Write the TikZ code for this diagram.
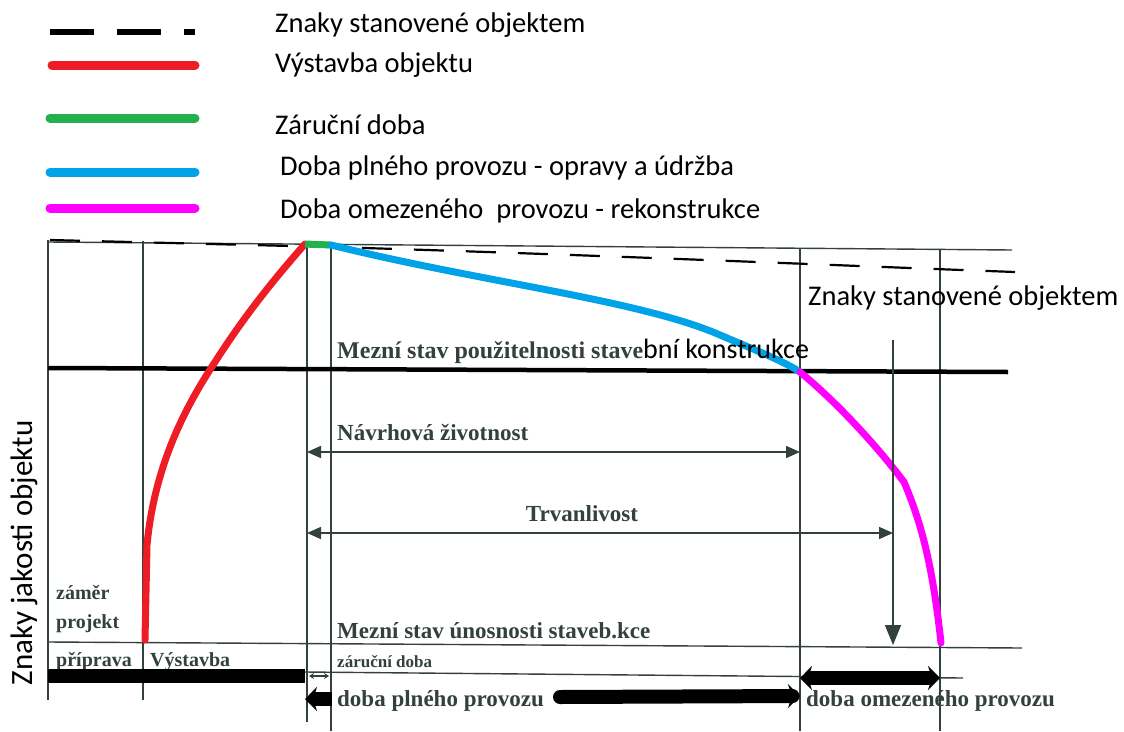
\documentclass[tikz,border=0pt]{standalone}
\usepackage{fontspec}
\setmainfont{Liberation Serif}
\newfontfamily\calibri{Carlito}
\usetikzlibrary{arrows.meta}
\definecolor{gridc}{HTML}{33413C}
\definecolor{cred}{HTML}{EE1C24}
\definecolor{cgreen}{HTML}{22B14C}
\definecolor{cblue}{HTML}{00A2E8}
\definecolor{cmag}{HTML}{FF00FF}
\tikzset{
  grid/.style={draw=gridc,line width=1.4pt},
  legline/.style={line width=9pt,line cap=round},
  curve/.style={line width=7pt,line cap=round,line join=round},
  legtxt/.style={anchor=west,inner sep=0pt,font=\calibri\fontsize{28.5}{32}\selectfont},
  sertxt/.style={anchor=base west,inner sep=0pt,text=gridc,font=\bfseries\fontsize{23}{27}\selectfont},
  smalltxt/.style={anchor=base west,inner sep=0pt,text=gridc,font=\bfseries\fontsize{20}{24}\selectfont},
  dimarrow/.style={draw=gridc,line width=1.6pt,{Triangle[length=14pt,width=12pt]}-{Triangle[length=14pt,width=12pt]}},
  bar/.style={line width=14pt,black},
}
\begin{document}
\begin{tikzpicture}[x=1pt,y=-1pt]
\useasboundingbox[fill=white] (0,0) rectangle (1124,731);

% ---------- legend ----------
\coordinate (l1a) at (50,32);  \coordinate (l1b) at (195,32);
\coordinate (l2a) at (52,65);  \coordinate (l2b) at (195,65);
\coordinate (l3a) at (50,118); \coordinate (l3b) at (195,118);
\coordinate (l4a) at (50,172); \coordinate (l4b) at (195,172);
\coordinate (l5a) at (50,208); \coordinate (l5b) at (195,208);
\draw[line width=6pt,dash pattern=on 44pt off 23pt] (l1a) -- (l1b);
\draw[legline,cred] (l2a) -- (l2b);
\draw[legline,cgreen] (l3a) -- (l3b);
\draw[legline,cblue] (l4a) -- (l4b);
\draw[legline,cmag] (l5a) -- (l5b);
\node[legtxt] (t1) at (275,25) {Znaky stanovené objektem};
\node[legtxt] (t2) at (275,65) {Výstavba objektu};
\node[legtxt] (t3) at (275,125) {Záruční doba};
\node[legtxt] (t4) at (280,168) {Doba plného provozu - opravy a údržba};
\node[legtxt] (t5) at (280,211) {Doba omezeného\ \ provozu - rekonstrukce};

% ---------- grid ----------
\coordinate (topL) at (48,242);  \coordinate (topR) at (1012,250);
\draw[grid] (topL) -- (topR);
\foreach \n/\x/\a/\b in {v1/48/240/700, v2/143/241/700, v3/307/243/722, v4/331/244/731, v5/800/248/731, v6/940/250/731}{
  \coordinate (\n t) at (\x,\a);
  \coordinate (\n b) at (\x,\b);
  \draw[grid] (\n t) -- (\n b);
}
% dashed line "Znaky stanovene objektem"
\coordinate (dA) at (50,240);
\coordinate (dB) at (331,247);
\coordinate (dC) at (1015,272);
\draw[black,line width=2.2pt,dash pattern=on 30pt off 22pt] (dA) -- (dB) .. controls (600,255) and (850,266) .. (dC);

% limit state of serviceability
\coordinate (pL) at (48,368); \coordinate (pR) at (1008,372);
\draw[black,line width=4.5pt] (pL) -- (pR);
% limit state of load capacity
\coordinate (uL) at (48,642); \coordinate (uR) at (1022,648);
\draw[grid] (uL) -- (uR);
% line under zarucni doba
\coordinate (zL) at (305,672); \coordinate (zR) at (963,678);
\draw[grid] (zL) -- (zR);

% ---------- curves ----------
\coordinate (r0) at (145,640);
\coordinate (g0) at (305,244);
\coordinate (g1) at (331,245);
\coordinate (b1) at (800,372);
\coordinate (m1) at (941,643);
\draw[curve,cred] (r0) -- (147,545) .. controls (155,460) and (190,400) .. (215,362)
   .. controls (245,315) and (275,278) .. (g0);
\draw[curve,cgreen,line cap=butt] (g0) -- (g1);
\draw[curve,cblue] (g1) .. controls (480,282) and (640,300) .. (720,335) .. controls (760,352) and (785,362) .. (b1);
\draw[curve,cmag] (b1) .. controls (840,405) and (880,450) .. (904,482)
   .. controls (920,520) and (932,560) .. (m1);

% ---------- dimension arrows ----------
\coordinate (nA) at (307,452); \coordinate (nB) at (800,452);
\draw[dimarrow] (nA) -- (nB);
\coordinate (tA) at (307,533); \coordinate (tB) at (893,533);
\draw[dimarrow] (tA) -- (tB);
\coordinate (sA) at (893,340); \coordinate (sB) at (893,645);
\draw[draw=gridc,line width=1.6pt,-{Triangle[length=20pt,width=16pt]}] (sA) -- (sB);

% ---------- texts ----------
\node[anchor=base west,inner sep=0pt,text=gridc,font=\bfseries\fontsize{24}{28}\selectfont] (mp) at (337,358) {Mezní stav použitelnosti stave};
\node[anchor=base west,inner sep=0pt,font=\calibri\fontsize{28}{32}\selectfont] (mp2) at (643,358) {bní konstrukce};
\node[sertxt] (nz) at (337,440) {Návrhová životnost};
\node[anchor=base,inner sep=0pt,text=gridc,font=\bfseries\fontsize{23}{27}\selectfont] (tv) at (582,521) {Trvanlivost};
\node[sertxt] (mu) at (337,638) {Mezní stav únosnosti staveb.kce};
\node[anchor=base west,inner sep=0pt,text=gridc,font=\bfseries\fontsize{17}{20}\selectfont] (zd) at (337,667) {záruční doba};
\node[sertxt] (dp) at (337,706) {doba plného provozu};
\node[sertxt] (do) at (806,706) {doba omezeného provozu};
\node[smalltxt] (zm) at (56,599) {záměr};
\node[smalltxt] (pj) at (56,628) {projekt};
\node[smalltxt] (pr) at (56,666) {příprava};
\node[smalltxt] (vy) at (150,666) {Výstavba};
\node[legtxt] (zs) at (808,298) {Znaky stanovené objektem};
\node[anchor=center,inner sep=0pt,rotate=90,font=\calibri\fontsize{31}{34}\selectfont] (zj) at (24,553) {Znaky jakosti objektu};

% ---------- thick time bars ----------
\coordinate (b1L) at (48,676); \coordinate (b1R) at (305,676);
\draw[bar] (b1L) -- (b1R);
\coordinate (zaL) at (309,676); \coordinate (zaR) at (329,676);
\draw[gridc,line width=1.5pt,{Stealth[length=5pt,width=6pt]}-{Stealth[length=5pt,width=6pt]}] (zaL) -- (zaR);
\coordinate (p1a) at (332,699); \coordinate (p1b) at (305,699);
\draw[bar,-{Stealth[length=12pt,width=24pt]}] (p1a) -- (p1b);
\coordinate (p2a) at (560,697); \coordinate (p2b) at (800,696);
\draw[bar,line cap=round,-{Stealth[length=12pt,width=24pt]}] (p2a) -- (p2b);
\coordinate (oA) at (800,678); \coordinate (oB) at (940,678);
\draw[bar,{Stealth[length=12pt,width=24pt]}-{Stealth[length=12pt,width=24pt]}] (oA) -- (oB);
\end{tikzpicture}
\end{document}
